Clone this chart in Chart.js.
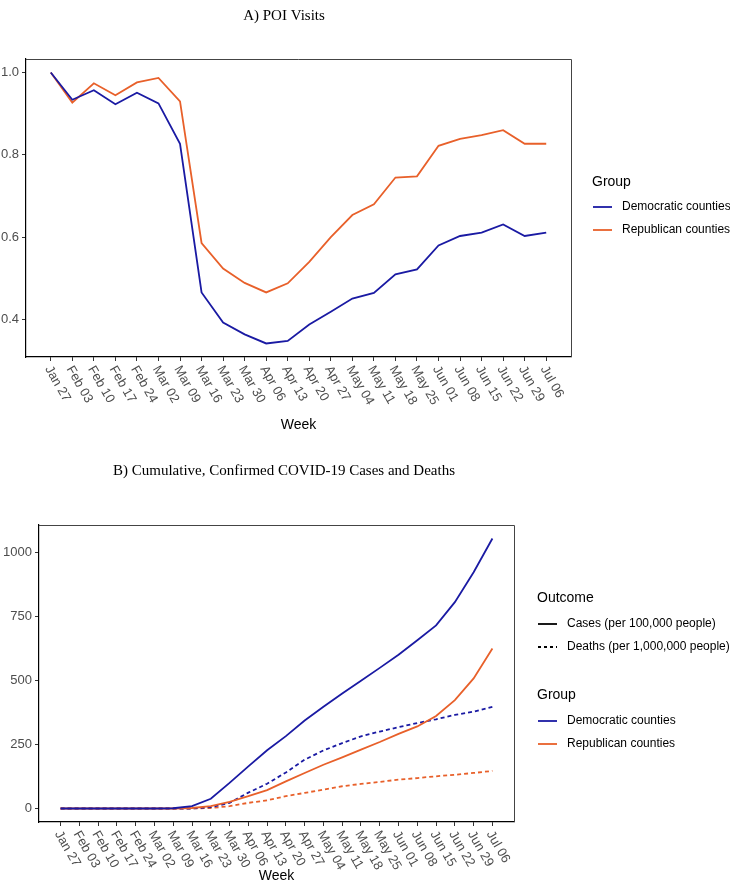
<!DOCTYPE html>
<html>
<head>
<meta charset="utf-8">
<script src="https://cdn.jsdelivr.net/npm/chart.js"></script>
<style>
  body { margin: 0; background: #fff; }
  canvas { display: block; }
</style>
</head>
<body>
<canvas id="poiChart" width="730" height="446"></canvas>
<canvas id="covidChart" width="730" height="446"></canvas>
<script>
const weeks = ['Jan 27', 'Feb 03', 'Feb 10', 'Feb 17', 'Feb 24', 'Mar 02', 'Mar 09', 'Mar 16',
  'Mar 23', 'Mar 30', 'Apr 06', 'Apr 13', 'Apr 20', 'Apr 27', 'May 04', 'May 11', 'May 18',
  'May 25', 'Jun 01', 'Jun 08', 'Jun 15', 'Jun 22', 'Jun 29', 'Jul 06'];

// A) POI visits, relative to week of Jan 27
const poiDem = [1.000, 0.934, 0.957, 0.923, 0.951, 0.925, 0.827, 0.466, 0.393, 0.364, 0.342, 0.348,
  0.388, 0.419, 0.451, 0.465, 0.510, 0.522, 0.580, 0.603, 0.611, 0.631, 0.603, 0.611];
const poiRep = [1.000, 0.927, 0.974, 0.945, 0.976, 0.987, 0.930, 0.586, 0.524, 0.489, 0.466, 0.488,
  0.540, 0.600, 0.654, 0.680, 0.745, 0.748, 0.822, 0.839, 0.848, 0.860, 0.827, 0.827];
const poiTicks = [0.4, 0.6, 0.8, 1.0];

// B) cumulative cases (per 100k) and deaths (per 1M)
const casesDem = [0, 0, 0, 0, 0, 0, 1, 9, 38, 100, 165, 228, 283, 344, 398, 450, 500, 550, 601, 658, 716, 807, 924, 1056];
const casesRep = [0, 0, 0, 0, 0, 0, 0, 2, 9, 26, 48, 72, 106, 139, 171, 200, 230, 260, 292, 321, 362, 424, 509, 626];
const deathsDem = [0, 0, 0, 0, 0, 0, 0, 0, 5, 22, 62, 97, 141, 191, 227, 256, 282, 301, 318, 334, 349, 366, 379, 398];
const deathsRep = [0, 0, 0, 0, 0, 0, 0, 0, 2, 9, 22, 32, 48, 61, 74, 87, 96, 104, 113, 119, 126, 132, 139, 147];
const covidTicks = [0, 250, 500, 750, 1000];

const BLUE = '#1a1aa3';
const ORANGE = '#e8602a';
const SANS = '"Liberation Sans", Arial, sans-serif';
const SERIF = '"Liberation Serif", "Times New Roman", serif';

Chart.defaults.font.family = SANS;

const toPoints = arr => arr.map((v, i) => ({ x: i, y: v }));

function padRange(arrs) {
  const all = arrs.flat();
  const lo = Math.min(...all), hi = Math.max(...all);
  const pad = (hi - lo) * 0.05;
  return [lo - pad, hi + pad];
}

function line(label, data, color, dash) {
  return {
    label: label,
    data: toPoints(data),
    borderColor: color,
    borderWidth: 1.8,
    borderDash: dash || [],
    pointRadius: 0,
    tension: 0,
    fill: false
  };
}

// border top/right, rotated week labels, titles and legend
const decor = {
  id: 'decor',
  afterDraw(chart, args, opts) {
    const { ctx, chartArea: a } = chart;
    const x = chart.scales.x;
    ctx.save();

    ctx.strokeStyle = '#444';
    ctx.lineWidth = 1;
    ctx.beginPath();
    ctx.moveTo(a.left, a.top + 0.5);
    ctx.lineTo(a.right + 0.5, a.top + 0.5);
    ctx.lineTo(a.right + 0.5, a.bottom);
    ctx.stroke();

    ctx.fillStyle = '#4d4d4d';
    ctx.font = '13px ' + SANS;
    ctx.textAlign = 'left';
    ctx.textBaseline = 'middle';
    weeks.forEach((w, i) => {
      const px = x.getPixelForValue(i);
      ctx.save();
      ctx.translate(px - 3, a.bottom + 10);
      ctx.rotate(Math.PI / 3);
      ctx.fillText(w, 0, 0);
      ctx.restore();
    });

    ctx.fillStyle = '#000';
    ctx.textAlign = 'center';
    ctx.font = '14px ' + SANS;
    ctx.fillText('Week', (a.left + a.right) / 2, opts.weekY);

    ctx.font = '15px ' + SERIF;
    ctx.fillText(opts.title, opts.titleX, opts.titleY);

    ctx.textAlign = 'left';
    opts.legend.forEach(sec => {
      ctx.fillStyle = '#000';
      ctx.font = '14px ' + SANS;
      ctx.fillText(sec.title, sec.x, sec.y);
      ctx.font = '12px ' + SANS;
      sec.items.forEach(it => {
        ctx.strokeStyle = it.color;
        ctx.lineWidth = 1.8;
        ctx.setLineDash(it.dash || []);
        ctx.beginPath();
        ctx.moveTo(sec.x + 1, it.y);
        ctx.lineTo(sec.x + 20, it.y);
        ctx.stroke();
        ctx.setLineDash([]);
        ctx.fillStyle = '#000';
        ctx.fillText(it.label, sec.x + 30, it.y);
      });
    });
    ctx.restore();
  }
};

function scalesFor(range, yTicks, fmt, yWidth, xHeight) {
  return {
    x: {
      type: 'linear',
      min: -1.15,
      max: weeks.length - 1 + 1.15,
      afterBuildTicks: s => { s.ticks = weeks.map((w, i) => ({ value: i })); },
      afterFit: s => { s.height = xHeight; },
      ticks: { display: false },
      grid: { drawOnChartArea: false, drawTicks: true, tickLength: 4, color: '#333' },
      border: { color: '#000', width: 1.2 }
    },
    y: {
      min: range[0],
      max: range[1],
      afterBuildTicks: s => { s.ticks = yTicks.map(v => ({ value: v })); },
      afterFit: s => { s.width = yWidth; },
      ticks: { color: '#4d4d4d', font: { size: 13 }, padding: 3, callback: fmt },
      grid: { drawOnChartArea: false, drawTicks: true, tickLength: 4, color: '#333' },
      border: { color: '#000', width: 1.2 }
    }
  };
}

new Chart(document.getElementById('poiChart'), {
  type: 'line',
  data: {
    datasets: [
      line('Democratic counties', poiDem, BLUE),
      line('Republican counties', poiRep, ORANGE)
    ]
  },
  options: {
    responsive: false,
    animation: false,
    layout: { padding: { top: 59, right: 159, left: 0, bottom: 0 } },
    scales: scalesFor(padRange([poiDem, poiRep]), poiTicks, v => v.toFixed(1), 26, 89),
    plugins: {
      legend: { display: false },
      tooltip: { enabled: false },
      decor: {
        title: 'A) POI Visits', titleX: 284, titleY: 16, weekY: 425,
        legend: [{
          title: 'Group', x: 592, y: 182,
          items: [
            { label: 'Democratic counties', color: BLUE, y: 207 },
            { label: 'Republican counties', color: ORANGE, y: 230 }
          ]
        }]
      }
    }
  },
  plugins: [decor]
});

new Chart(document.getElementById('covidChart'), {
  type: 'line',
  data: {
    datasets: [
      line('Democratic cases', casesDem, BLUE),
      line('Republican cases', casesRep, ORANGE),
      line('Democratic deaths', deathsDem, BLUE, [4, 3]),
      line('Republican deaths', deathsRep, ORANGE, [4, 3])
    ]
  },
  options: {
    responsive: false,
    animation: false,
    layout: { padding: { top: 79, right: 216, left: 0, bottom: 0 } },
    scales: scalesFor(padRange([casesDem, casesRep, deathsDem, deathsRep]), covidTicks, v => String(v), 39, 70),
    plugins: {
      legend: { display: false },
      tooltip: { enabled: false },
      decor: {
        title: 'B) Cumulative, Confirmed COVID-19 Cases and Deaths', titleX: 284, titleY: 25, weekY: 430,
        legend: [{
          title: 'Outcome', x: 537, y: 152,
          items: [
            { label: 'Cases (per 100,000 people)', color: '#000', y: 178 },
            { label: 'Deaths (per 1,000,000 people)', color: '#000', dash: [3, 3], y: 201 }
          ]
        }, {
          title: 'Group', x: 537, y: 249,
          items: [
            { label: 'Democratic counties', color: BLUE, y: 275 },
            { label: 'Republican counties', color: ORANGE, y: 298 }
          ]
        }]
      }
    }
  },
  plugins: [decor]
});
</script>
</body>
</html>
